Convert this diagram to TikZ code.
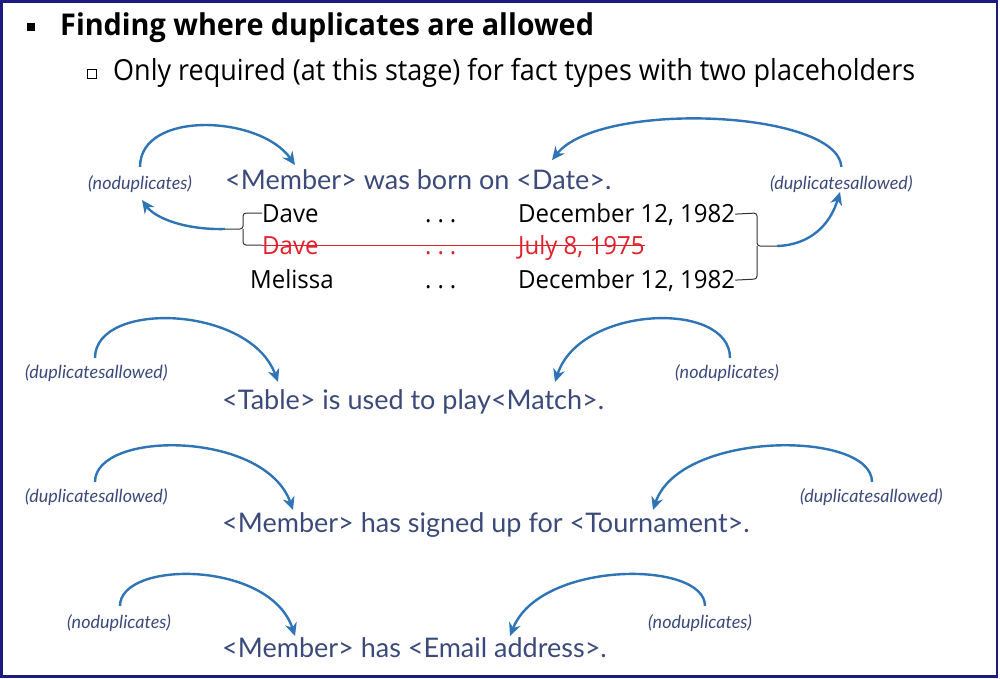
\documentclass[tikz,border=0pt]{standalone}
\usepackage{fontspec}
\usepackage{xcolor}
\usepackage{tikz}
\usetikzlibrary{arrows.meta}
\setmainfont{Open Sans}
\newfontfamily\headfont[FakeStretch=0.96]{Open Sans}
\newfontfamily\subfont[FakeStretch=0.93]{Open Sans}
\newfontfamily\rowfont[FakeStretch=0.96]{Open Sans}
\newfontfamily\handfont{Lato}
\definecolor{frame}{HTML}{1C1C7E}
\definecolor{hand}{HTML}{3B4A7A}
\definecolor{arrowblue}{HTML}{2F74B5}
\definecolor{strike}{HTML}{E0202A}
\definecolor{brace}{HTML}{333333}
\tikzset{
  head/.style={inner sep=0pt, anchor=base west, font=\headfont\bfseries\fontsize{30}{32}\selectfont},
  sub/.style={inner sep=0pt, anchor=base west, font=\subfont\fontsize{29}{31}\selectfont},
  fact/.style={inner sep=0pt, anchor=base west, text=hand, font=\handfont\fontsize{27}{29}\selectfont},
  note/.style={inner sep=0pt, anchor=base west, text=hand, font=\handfont\itshape\fontsize{18}{20}\selectfont},
  row/.style={inner sep=0pt, anchor=base west, font=\rowfont\fontsize{25}{27}\selectfont},
  gone/.style={row, text=strike},
  loop/.style={draw=arrowblue, line width=2.4pt, -{Stealth[length=13pt,width=12pt]}},
  bracket/.style={draw=brace, line width=1pt, rounded corners=3pt}
}
\newcommand{\gap}{.\hspace{6pt}.\hspace{6pt}.}

\begin{document}
\begin{tikzpicture}[x=1pt,y=-1pt]
\useasboundingbox (0,0) rectangle (1000,678);
\draw[frame, line width=2.5pt] (1.5,1.5) rectangle (997,676.5);

% bullets
\fill (27,23) rectangle (35,31);
\draw[line width=0.8pt] (87,69) rectangle (96,78);
\node[head] (title) at (60,35) {Finding where duplicates are allowed};
\node[sub] (subtitle) at (113,80) {Only required (at this stage) for fact types with two placeholders};

% born on
\node[note] (nodup1) at (88,189) {(noduplicates)};
\node[fact] (born) at (225,189) {<Member> was born on <Date>.};
\node[note] (dupok1) at (770,189) {(duplicatesallowed)};
\node[row] (dave1) at (262,222) {Dave};
\node[row] (dots1) at (425,222) {\gap};
\node[row] (date1) at (518,222) {December 12, 1982};
\node[gone] (dave2) at (262,254) {Dave};
\node[gone] (dots2) at (425,254) {\gap};
\node[gone] (date2) at (518,254) {July 8, 1975};
\node[row] (melissa) at (250,288) {Melissa};
\node[row] (dots3) at (425,288) {\gap};
\node[row] (date3) at (518,288) {December 12, 1982};
\draw[strike, line width=1pt] (dave2.west) -- (dave2.west -| date2.east);

\coordinate (lb) at (225,229);
\coordinate (rb) at (777,246);
\draw[bracket] (dave1.west) -- (243,213) -- (243,229) -- (lb);
\draw[bracket] (dave2.west) -- (243,245) -- (243,229);
\draw[bracket] (date1.east) -- (757,213) -- (757,246) -- (rb);
\draw[bracket] (date3.east) -- (757,279) -- (757,246);

\coordinate (m1) at (295,165);
\coordinate (d1) at (552,160);
\draw[loop] (nodup1.north) ++(0,-8) .. controls (140,110) and (260,115) .. (m1);
\draw[loop] (dupok1.north) ++(0,-8) .. controls (838,110) and (600,100) .. (d1);
\draw[loop] (lb) .. controls (185,230) and (155,218) .. (142,200);
\draw[loop] (rb) .. controls (810,245) and (830,225) .. (840,192);

% used to play
\node[note] (dupok2) at (25,378) {(duplicatesallowed)};
\node[fact] (play) at (222,409) {<Table> is used to play<Match>.};
\node[note] (nodup2) at (675,378) {(noduplicates)};
\coordinate (t2) at (278,382);
\coordinate (m2) at (555,382);
\draw[loop] (95,358) .. controls (95,300) and (250,305) .. (t2);
\draw[loop] (730,358) .. controls (730,300) and (580,305) .. (m2);

% signed up for
\node[note] (dupok3) at (25,502) {(duplicatesallowed)};
\node[fact] (signed) at (222,532) {<Member> has signed up for <Tournament>.};
\node[note] (dupok4) at (800,502) {(duplicatesallowed)};
\coordinate (m3) at (293,510);
\coordinate (t3) at (653,510);
\draw[loop] (95,482) .. controls (95,430) and (265,430) .. (m3);
\draw[loop] (872,482) .. controls (872,430) and (680,430) .. (t3);

% email address
\node[note] (nodup3) at (67,628) {(noduplicates)};
\node[fact] (email) at (222,657) {<Member> has <Email address>.};
\node[note] (nodup4) at (648,628) {(noduplicates)};
\coordinate (m4) at (295,636);
\coordinate (e4) at (510,636);
\draw[loop] (120,606) .. controls (120,560) and (270,560) .. (m4);
\draw[loop] (705,606) .. controls (705,560) and (540,560) .. (e4);
\end{tikzpicture}
\end{document}
